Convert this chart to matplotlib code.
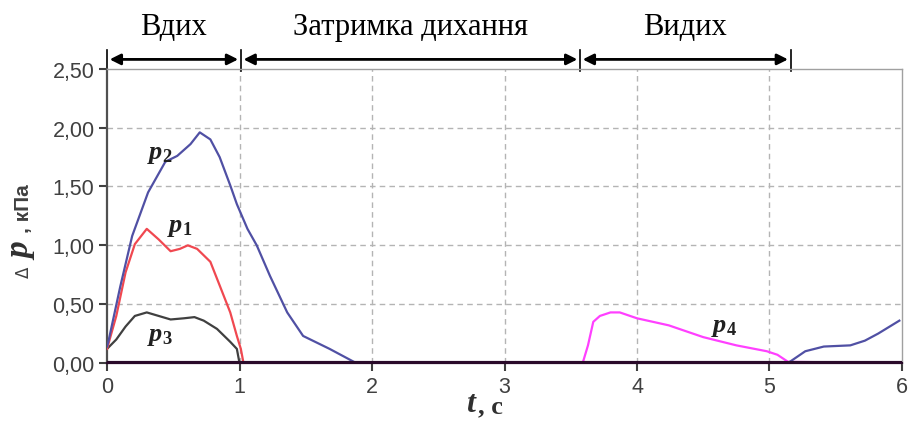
import matplotlib
matplotlib.use("Agg")
import matplotlib.pyplot as plt

plt.rcParams['mathtext.fontset'] = 'custom'
plt.rcParams['mathtext.it'] = 'Liberation Serif:italic:bold'
plt.rcParams['mathtext.rm'] = 'Liberation Serif:bold'
plt.rcParams['mathtext.bf'] = 'Liberation Serif:bold'

# ---- data ----
t_p1 = [0.0, 0.07, 0.14, 0.21, 0.30, 0.39, 0.48, 0.55, 0.61, 0.68, 0.78, 0.85, 0.93, 0.98, 1.01, 1.03, 6.0]
v_p1 = [0.12, 0.40, 0.77, 1.01, 1.14, 1.05, 0.95, 0.97, 1.00, 0.97, 0.86, 0.66, 0.43, 0.23, 0.12, 0.0, 0.0]

t_p2 = [0.0, 0.01, 0.10, 0.19, 0.31, 0.44, 0.53, 0.63, 0.70, 0.78, 0.85, 0.93, 0.98, 1.06, 1.13, 1.23,
        1.36, 1.48, 1.68, 1.88, 5.14, 5.27, 5.41, 5.61, 5.72, 5.82, 5.98]
v_p2 = [0.14, 0.18, 0.65, 1.08, 1.45, 1.71, 1.76, 1.86, 1.96, 1.90, 1.75, 1.51, 1.35, 1.14, 1.00, 0.74,
        0.43, 0.23, 0.12, 0.0, 0.0, 0.10, 0.14, 0.15, 0.19, 0.25, 0.36]

t_p3 = [0.0, 0.07, 0.14, 0.21, 0.30, 0.39, 0.48, 0.58, 0.66, 0.73, 0.83, 0.93, 0.98, 1.00, 6.0]
v_p3 = [0.12, 0.20, 0.31, 0.40, 0.43, 0.40, 0.37, 0.38, 0.39, 0.36, 0.29, 0.18, 0.12, 0.0, 0.0]

t_p4 = [0.0, 3.59, 3.63, 3.67, 3.72, 3.80, 3.87, 4.00, 4.24, 4.50, 4.75, 4.98, 5.06, 5.14, 6.0]
v_p4 = [0.0, 0.0, 0.15, 0.35, 0.40, 0.43, 0.43, 0.38, 0.32, 0.22, 0.15, 0.10, 0.07, 0.01, 0.0]

x_ticks = [0, 1, 2, 3, 4, 5, 6]
y_ticks = [0.0, 0.5, 1.0, 1.5, 2.0, 2.5]
y_tick_labels = ['0,00', '0,50', '1,00', '1,50', '2,00', '2,50']

phase_names = ['Вдих', 'Затримка дихання', 'Видих']
phase_bounds = [0.0, 1.01, 3.57, 5.16]

# ---- figure ----
fig = plt.figure(figsize=(9.1, 4.27), dpi=100)
ax = fig.add_axes([0.1176, 0.1475, 0.8736, 0.689])
ax.set_xlim(0, 6)
ax.set_ylim(0, 2.5)

grid_kw = dict(color='#b4b4b4', lw=1.0, ls=(0, (4, 3)), zorder=1)
for x in x_ticks[1:-1]:
    ax.axvline(x, **grid_kw)
for y in y_ticks[1:-1]:
    ax.axhline(y, **grid_kw)

ax.plot(t_p4, v_p4, color='#ff40ff', lw=1.6, zorder=3)
ax.plot(t_p3, v_p3, color='#404040', lw=1.6, zorder=3)
ax.plot(t_p1, v_p1, color='#f04850', lw=1.6, zorder=4)
ax.plot(t_p2, v_p2, color='#5050a4', lw=1.6, zorder=4)
ax.axhline(0, color='#2a0a2a', lw=3.0, zorder=5)

for s in ['top', 'right']:
    ax.spines[s].set_color('#a0a0a0')
    ax.spines[s].set_linewidth(1.0)
ax.spines['left'].set_color('#505050')
ax.spines['left'].set_linewidth(1.6)
ax.spines['bottom'].set_color('#2a0a2a')
ax.spines['bottom'].set_linewidth(1.6)

ax.set_xticks(x_ticks)
ax.set_xticklabels([str(v) for v in x_ticks])
ax.set_yticks(y_ticks)
ax.set_yticklabels(y_tick_labels)
ax.tick_params(axis='both', direction='out', length=6, width=1.5, color='#404040',
               labelsize=15.5, labelcolor='#404040', pad=3)
for lab in ax.get_xticklabels() + ax.get_yticklabels():
    lab.set_family('Liberation Sans')

# curve labels
lab_kw = dict(fontsize=19, color='#202020', ha='center', va='center', zorder=6)
ax.text(0.40, 1.79, r'$\mathit{p}_{\mathit{2}}$', **lab_kw)
ax.text(0.55, 1.17, r'$\mathit{p}_{\mathit{1}}$', **lab_kw)
ax.text(0.40, 0.25, r'$\mathit{p}_{\mathit{3}}$', **lab_kw)
ax.text(4.66, 0.32, r'$\mathit{p}_{\mathit{4}}$', **lab_kw)

# phase arrows above the plot
ya = 2.58
for i in range(3):
    a, b = phase_bounds[i], phase_bounds[i + 1]
    ax.annotate('', xy=(b - 0.02, ya), xytext=(a + 0.02, ya), xycoords='data',
                arrowprops=dict(arrowstyle='<|-|>', color='black', lw=2.0,
                                mutation_scale=16, shrinkA=0, shrinkB=0),
                annotation_clip=False)
    ax.text((a + b) / 2, 2.86, phase_names[i], ha='center', va='center',
            fontsize=22, family='Liberation Serif', color='black', clip_on=False)
for b in phase_bounds:
    ax.plot([b, b], [2.48, 2.66], color='black', lw=1.2, clip_on=False)

# y label pieces (rotated)
fig.text(24 / 910, 1 - 272 / 427, 'Δ', rotation=90, ha='center', va='center',
         fontsize=12, color='#404040', family='DejaVu Sans')
fig.text(22 / 910, 1 - 252 / 427, 'p', rotation=90, ha='center', va='center',
         fontsize=24, fontweight='bold', fontstyle='italic', family='Liberation Serif',
         color='#303030')
fig.text(24 / 910, 1 - 209 / 427, ', кПа', rotation=90, ha='center', va='center',
         fontsize=15, fontweight='bold', family='Liberation Sans', color='#404040')

# x label pieces
fig.text(470 / 910, 1 - 405 / 427, 't', ha='center', va='center', fontsize=23,
         fontweight='bold', fontstyle='italic', family='Liberation Serif', color='#303030')
fig.text(478 / 910, 1 - 407 / 427, ', c', ha='left', va='center', fontsize=19,
         fontweight='bold', family='Liberation Serif', color='#303030')

fig.savefig('out.png', dpi=100, facecolor='white')
